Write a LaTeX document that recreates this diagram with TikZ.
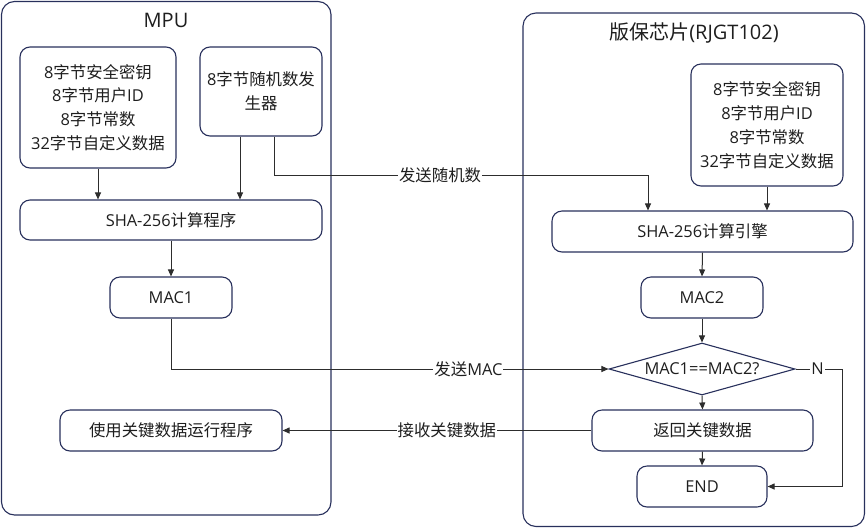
\documentclass[tikz,border=0pt]{standalone}
\usepackage{fontspec}
\setmainfont{Noto Sans CJK SC}
\newfontfamily\latfont{Open Sans}
\newcommand\latx[1]{{\latfont #1}}
\usetikzlibrary{shapes.geometric,arrows.meta}
\definecolor{navy}{RGB}{40,48,92}
\definecolor{linegray}{RGB}{45,45,45}
\definecolor{txt}{RGB}{30,30,30}
\begin{document}
\begin{tikzpicture}[x=1pt,y=-1pt,
  container/.style={draw=navy,line width=1.1pt,rounded corners=13pt},
  ttl/.style={text=txt,font=\fontsize{20}{24}\selectfont},
  box/.style={draw=navy,line width=1.1pt,rounded corners=10pt,fill=white,text=txt,align=center,inner sep=0pt,font=\fontsize{16.4}{23.8}\selectfont},
  dia/.style={draw=navy,line width=1.1pt,diamond,fill=white,text=txt,inner sep=0pt,font=\fontsize{16.4}{24}\selectfont},
  arr/.style={draw=linegray,line width=1pt,-{Triangle[length=7pt,width=6pt]}},
  lbl/.style={fill=white,text=txt,inner sep=1pt,font=\fontsize{16.4}{20}\selectfont}]
\useasboundingbox (0,0) rectangle (866,528);
% containers
\draw[container] (1.5,1.5) rectangle (331,515);
\node[ttl] (mputitle) at (166,20) {\latx{MPU}};
\draw[container] (523,13) rectangle (864.5,526.5);
\node[ttl] (chiptitle) at (694,33) {版保芯片\latx{(RJGT102)}};
% MPU side
\node[box,minimum width=156pt,minimum height=121pt] (data1) at (98,107.5) {\latx{8}字节安全密钥\\\latx{8}字节用户\latx{ID}\\\latx{8}字节常数\\\latx{32}字节自定义数据};
\node[box,minimum width=122pt,minimum height=89pt] (rng) at (261,91.5) {\latx{8}字节随机数发\\生器};
\node[box,minimum width=302pt,minimum height=40pt] (sha1) at (171,220) {\latx{SHA-256}计算程序};
\node[box,minimum width=122pt,minimum height=41pt] (mac1) at (171,297.5) {\latx{MAC1}};
\node[box,minimum width=222pt,minimum height=41pt] (use) at (171,430.5) {使用关键数据运行程序};
% chip side
\node[box,minimum width=152pt,minimum height=122pt] (data2) at (767,125) {\latx{8}字节安全密钥\\\latx{8}字节用户\latx{ID}\\\latx{8}字节常数\\\latx{32}字节自定义数据};
\node[box,minimum width=301pt,minimum height=41pt] (sha2) at (702.5,231.5) {\latx{SHA-256}计算引擎};
\node[box,minimum width=122pt,minimum height=41pt] (mac2) at (702,297.5) {\latx{MAC2}};
\node[dia,minimum width=186pt,minimum height=52pt] (cmp) at (702,369) {\makebox[0pt]{\latx{MAC1==MAC2?}}};
\node[box,minimum width=221pt,minimum height=41pt] (ret) at (702.5,430.5) {返回关键数据};
\node[box,minimum width=130pt,minimum height=41pt] (end) at (702,486.5) {\latx{END}};
% connectors MPU
\draw[arr] (data1.south) -- (data1.south |- sha1.north);
\draw[arr] ([xshift=-21pt]rng.south) -- ([xshift=-21pt]rng.south |- sha1.north);
\draw[arr] (sha1.south) -- (mac1.north);
\draw[arr] (mac1.south) |- node[lbl,pos=0.84]{发送\latx{MAC}} (cmp.west);
\draw[arr] ([xshift=13pt]rng.south) -- ++(0,39) -| node[lbl,pos=0.222]{发送随机数} ([xshift=-54.5pt]sha2.north);
% connectors chip
\draw[arr] (data2.south) -- (data2.south |- sha2.north);
\draw[arr] (sha2.south) -- (mac2.north);
\draw[arr] (mac2.south) -- (cmp.north);
\draw[arr] (cmp.south) -- (ret.north);
\draw[arr] (ret.south) -- (end.north);
\draw[arr] (ret.west) -- node[lbl,pos=0.468]{接收关键数据} (use.east);
\draw[arr] (cmp.east) -- ++(47,0) node[lbl,pos=0.47]{\latx{N}} |- (end.east);
\end{tikzpicture}
\end{document}
